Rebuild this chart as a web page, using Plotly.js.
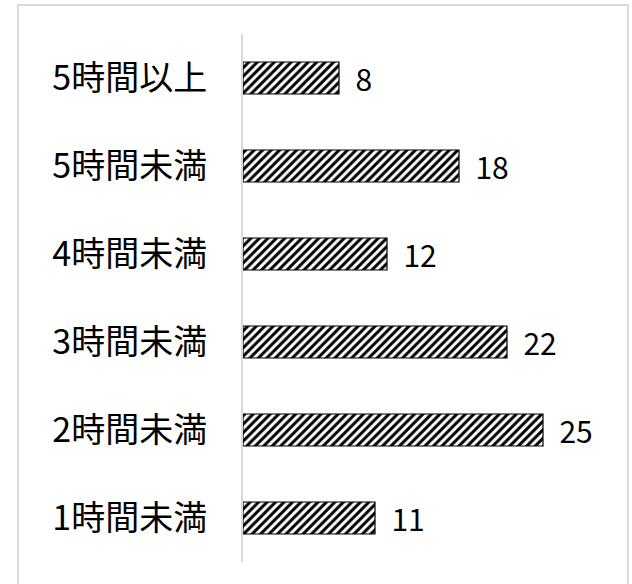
<!DOCTYPE html>
<html>
<head>
<meta charset="utf-8">
<script src="https://cdn.plot.ly/plotly-3.0.1.min.js"></script>
<style>html,body{margin:0;padding:0;background:#fff;}#chart{width:632px;height:584px;}</style>
</head>
<body>
<div id="chart"></div>
<script>
const categories = ["1時間未満", "2時間未満", "3時間未満", "4時間未満", "5時間未満", "5時間以上"];
const values = [11, 25, 22, 12, 18, 8];

const trace = {
  type: "bar",
  orientation: "h",
  y: categories,
  x: values,
  text: values.map(v => "\u00a0\u00a0" + v),
  textposition: "outside",
  constraintext: "none",
  cliponaxis: false,
  textfont: {family: "Noto Sans CJK JP", size: 30, color: "#000"},
  marker: {
    color: "#fff",
    line: {color: "#000", width: 1.2},
    pattern: {shape: "/", fgcolor: "#000", bgcolor: "#fff", size: 6, solidity: 0.5, fillmode: "replace"}
  },
  hoverinfo: "none"
};

const layout = {
  width: 632, height: 584,
  margin: {l: 243, r: 29, t: 34, b: 22},
  paper_bgcolor: "#fff", plot_bgcolor: "#fff",
  showlegend: false,
  bargap: 0.636,
  font: {family: "Noto Sans CJK JP", color: "#000"},
  xaxis: {range: [0, 30], visible: false, showgrid: false, zeroline: false, fixedrange: true},
  yaxis: {
    type: "category",
    showline: true, linecolor: "#d9d9d9", linewidth: 2,
    showgrid: false, zeroline: false, ticks: "",
    ticklabelstandoff: 27,
    tickfont: {family: "Noto Sans CJK JP", size: 34, color: "#000"},
    fixedrange: true
  },
  shapes: [{
    type: "rect", xref: "paper", yref: "paper",
    x0: -0.625, x1: 1.069, y0: -0.06, y1: 1.055,
    line: {color: "#d9d9d9", width: 2}, fillcolor: "rgba(0,0,0,0)", layer: "below"
  }]
};

Plotly.newPlot("chart", [trace], layout, {displayModeBar: false, staticPlot: true});
</script>
</body>
</html>
